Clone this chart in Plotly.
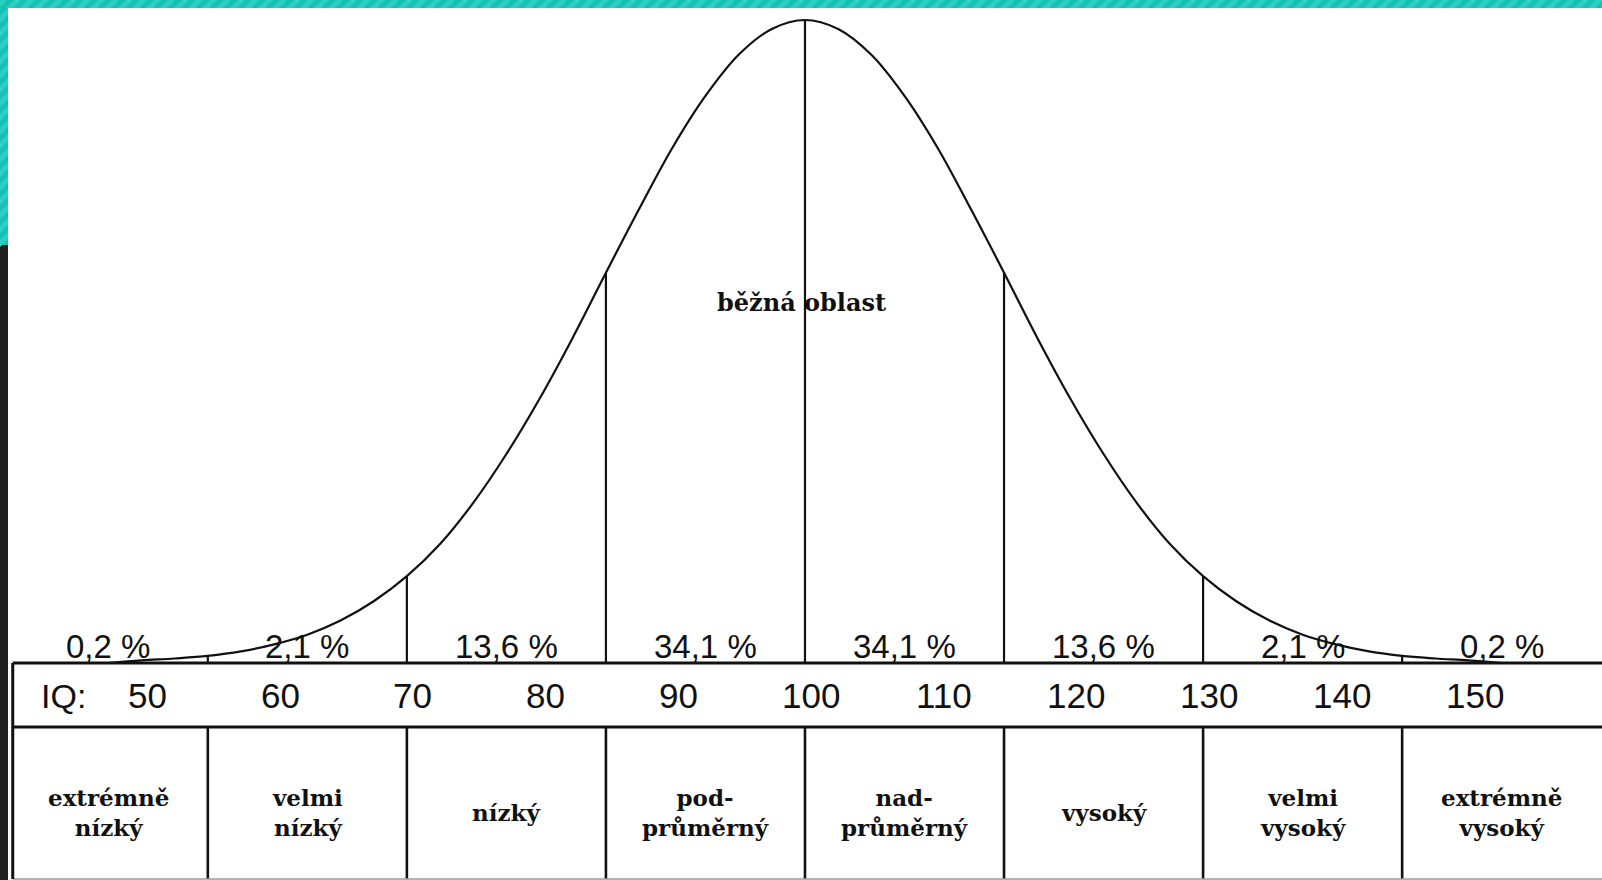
import plotly.graph_objects as go

# ---- data ----
# bell curve: IQ value and curve height (percent of peak height)
curve_iq = [47.5, 50, 52.5, 55, 57.5, 60, 62.5, 65, 67.5, 70, 72.5, 75, 77.5, 80, 82.5, 85,
            87.5, 90, 92.5, 95, 97.5, 100, 102.5, 105, 107.5, 110, 112.5, 115, 117.5, 120,
            122.5, 125, 127.5, 130, 132.5, 135, 137.5, 140, 142.5, 145, 147.5, 150, 152.5]
curve_h = [0.0, 0.4, 0.7, 1.1, 1.8, 2.9, 4.4, 6.6, 9.6, 13.5, 18.5, 24.9, 32.5, 41.1, 50.6, 60.7,
           70.6, 80.1, 88.2, 94.6, 98.6, 100.0, 98.6, 94.6, 88.2, 80.1, 70.6, 60.7, 50.6, 41.1,
           32.5, 24.9, 18.5, 13.5, 9.6, 6.6, 4.4, 2.9, 1.8, 1.1, 0.7, 0.4, 0.0]

# band boundaries (IQ) and curve height at each boundary
boundaries = [55, 70, 85, 100, 115, 130, 145]
boundary_h = [1.1, 13.5, 60.7, 100.0, 60.7, 13.5, 1.1]

# band centres, share of population, category labels
band_centres = [47.5, 62.5, 77.5, 92.5, 107.5, 122.5, 137.5, 152.5]
band_pct = ["0,2 %", "2,1 %", "13,6 %", "34,1 %", "34,1 %", "13,6 %", "2,1 %", "0,2 %"]
band_labels = ["extrémně<br>nízký", "velmi<br>nízký", "nízký", "pod-<br>průměrný",
               "nad-<br>průměrný", "vysoký", "velmi<br>vysoký", "extrémně<br>vysoký"]

# IQ tick labels in the scale row
iq_ticks = [50, 60, 70, 80, 90, 100, 110, 120, 130, 140, 150]
centre_label = "běžná oblast"

# ---- layout constants ----
X_MIN, X_MAX = 39.34, 160.06
Y_MIN, Y_MAX = -33.75, 103.11
TABLE_LEFT = 40.3
ROW1_BOTTOM = -9.95
TABLE_BOTTOM = -33.6
INK = "#111111"
W, H = 1602, 880

fig = go.Figure()

# bell curve
fig.add_trace(go.Scatter(x=curve_iq, y=curve_h, mode="lines",
                         line=dict(color=INK, width=2.2, shape="spline", smoothing=1.0),
                         hoverinfo="skip", showlegend=False))

shapes = []
# vertical lines under the curve
for b, h in zip(boundaries, boundary_h):
    shapes.append(dict(type="line", xref="x", yref="y", x0=b, x1=b, y0=0, y1=h,
                       line=dict(color=INK, width=2.2)))
# vertical lines in the category row
for b in boundaries:
    shapes.append(dict(type="line", xref="x", yref="y", x0=b, x1=b, y0=ROW1_BOTTOM, y1=TABLE_BOTTOM,
                       line=dict(color=INK, width=2.6)))
# table horizontals
for yy in (0, ROW1_BOTTOM):
    shapes.append(dict(type="line", xref="x", yref="y", x0=TABLE_LEFT, x1=X_MAX, y0=yy, y1=yy,
                       line=dict(color=INK, width=3)))
shapes.append(dict(type="line", xref="x", yref="y", x0=TABLE_LEFT, x1=X_MAX, y0=TABLE_BOTTOM, y1=TABLE_BOTTOM,
                   line=dict(color="#9a9a9a", width=1.5)))
# table left border
shapes.append(dict(type="line", xref="x", yref="y", x0=TABLE_LEFT, x1=TABLE_LEFT, y0=0, y1=TABLE_BOTTOM,
                   line=dict(color=INK, width=3)))

# page decoration (teal striped frame and dark strip)
def px(x):
    return x / W


def py(y):
    return 1 - y / H


TEAL_DARK, TEAL_LIGHT = "#14c3b3", "#2dcfc2"
shapes.append(dict(type="rect", xref="paper", yref="paper", x0=0, x1=1, y0=py(8), y1=1,
                   fillcolor=TEAL_DARK, line=dict(width=0), layer="above"))
shapes.append(dict(type="rect", xref="paper", yref="paper", x0=0, x1=px(8), y0=py(245), y1=1,
                   fillcolor=TEAL_DARK, line=dict(width=0), layer="above"))
shapes.append(dict(type="rect", xref="paper", yref="paper", x0=0, x1=px(8), y0=0, y1=py(245),
                   fillcolor="#202020", line=dict(width=0), layer="above"))
# diagonal light stripes on the top bar
period = 14
for s in range(-8, W + 8, period):
    path = (f"M {px(s)},{py(8)} L {px(s + 7)},{py(8)} L {px(s + 15)},{py(0)} L {px(s + 8)},{py(0)} Z")
    shapes.append(dict(type="path", xref="paper", yref="paper", path=path,
                       fillcolor=TEAL_LIGHT, line=dict(width=0), layer="above"))
# diagonal light stripes on the left bar
for s in range(8, 245, period):
    path = (f"M {px(0)},{py(s + 8)} L {px(0)},{py(s + 15)} L {px(8)},{py(s + 7)} L {px(8)},{py(s)} Z")
    shapes.append(dict(type="path", xref="paper", yref="paper", path=path,
                       fillcolor=TEAL_LIGHT, line=dict(width=0), layer="above"))

annotations = []
sans = "Liberation Sans, Arial, sans-serif"
serif = "DejaVu Serif, serif"
for c, p in zip(band_centres, band_pct):
    annotations.append(dict(x=c, y=2.64, xref="x", yref="y", text=p, showarrow=False,
                            font=dict(family=sans, size=33, color=INK), xanchor="center", yanchor="middle"))
for t in iq_ticks:
    annotations.append(dict(x=t, y=-5.13, xref="x", yref="y", text=str(t), showarrow=False, xshift=6,
                            font=dict(family=sans, size=35, color=INK), xanchor="center", yanchor="middle"))
annotations.append(dict(x=42.3, y=-5.13, xref="x", yref="y", text="IQ:", showarrow=False,
                        font=dict(family=sans, size=34, color=INK), xanchor="left", yanchor="middle"))
for c, lab in zip(band_centres, band_labels):
    annotations.append(dict(x=c, y=-23.2, xref="x", yref="y", text=lab, showarrow=False,
                            font=dict(family=serif, size=23, color=INK, weight="bold"),
                            xanchor="center", yanchor="middle"))
annotations.append(dict(x=99.7, y=56.0, xref="x", yref="y", text=centre_label, showarrow=False,
                        font=dict(family=serif, size=24, color=INK, weight="bold"),
                        xanchor="center", yanchor="middle"))

fig.update_layout(
    width=W, height=H,
    margin=dict(l=0, r=0, t=0, b=0),
    paper_bgcolor="white", plot_bgcolor="white",
    xaxis=dict(range=[X_MIN, X_MAX], visible=False, fixedrange=True),
    yaxis=dict(range=[Y_MIN, Y_MAX], visible=False, fixedrange=True),
    shapes=shapes, annotations=annotations, showlegend=False,
)

fig.write_html("out.html", config={"staticPlot": True},
               post_script="document.body.style.margin='0';document.body.style.overflow='hidden';")
